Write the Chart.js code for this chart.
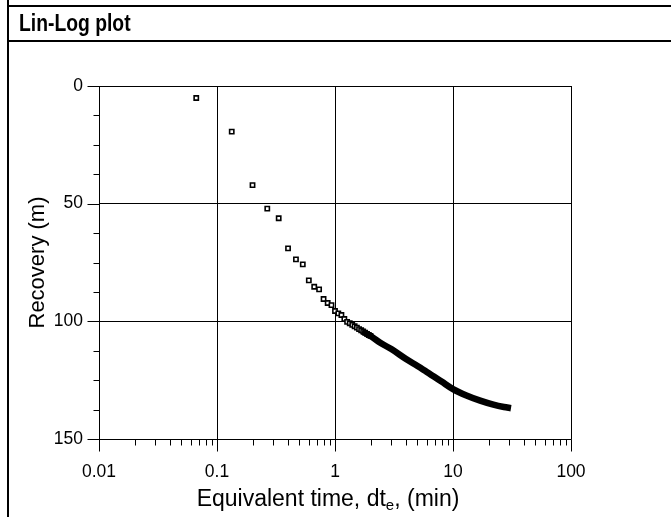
<!DOCTYPE html>
<html>
<head>
<meta charset="utf-8">
<script src="https://cdn.jsdelivr.net/npm/chart.js@4.4.1/dist/chart.umd.min.js"></script>
<style>
  html, body { margin: 0; padding: 0; background: #fff; }
  #wrap { position: relative; width: 671px; height: 517px; overflow: hidden; background: #fff; }
  #c { position: absolute; left: 0; top: 0; }
  .ln { position: absolute; background: #000; }
  #title { position: absolute; left: 19px; top: 12px; font: bold 23px/23px "Liberation Sans", Arial, sans-serif; color: #000; white-space: nowrap; transform: scaleX(0.84); transform-origin: 0 0; }
  #xtitle { position: absolute; left: 28px; width: 600px; top: 487px; text-align: center; font: 23px/23px "Liberation Sans", Arial, sans-serif; color: #000; white-space: nowrap; }
  #xtitle sub { font-size: 15px; line-height: 0; vertical-align: -4px; }
</style>
</head>
<body>
<div id="wrap">
  <canvas id="c" width="671" height="517"></canvas>
  <div class="ln" style="left:7px;top:0;width:2px;height:517px;"></div>
  <div class="ln" style="left:7px;top:5px;width:664px;height:2px;"></div>
  <div class="ln" style="left:7px;top:40px;width:664px;height:2px;"></div>
  <div id="title">Lin-Log plot</div>
  <div id="xtitle">Equivalent time, dt<sub>e</sub>, (min)</div>
</div>
<script>
// Individually visible samples (equivalent time in min, recovery in m)
const sampleTimes = [0.0667, 0.1333, 0.2, 0.2667, 0.3333, 0.4, 0.4667, 0.5333, 0.6, 0.6667,
  0.7333, 0.8, 0.8667, 0.9333, 1.0, 1.0667, 1.1333, 1.2, 1.2667, 1.3333, 1.4, 1.4667, 1.5333,
  1.6, 1.6667, 1.7333, 1.8, 1.8667, 1.9333, 2.0];
const sampleRecovery = [5.1, 19.4, 42.1, 52.1, 56.2, 69.0, 73.7, 75.8, 82.6, 85.3,
  86.4, 90.5, 92.2, 93.1, 95.6, 96.6, 97.3, 99.0, 100.2, 100.8, 101.5, 102.1, 102.7,
  103.3, 103.8, 104.3, 104.8, 105.3, 105.8, 106.2];
// Dense part of the record (markers merge into a solid band)
const denseTimes = [1.7, 2.0, 2.4, 3, 4, 5, 6, 8, 10, 13, 17, 22, 27, 31];
const denseRecovery = [104.3, 106.2, 109.0, 111.8, 116.0, 119.0, 121.5, 125.6, 128.8, 131.5, 133.7, 135.4, 136.4, 136.9];
// Axis ticks
const xMajorTicks = [0.01, 0.1, 1, 10, 100];
const xTickLabels = ['0.01', '0.1', '1', '10', '100'];
const yMajorTicks = [0, 50, 100, 150];
const yMinorStep = 12.5;

const isXMajor = v => xMajorTicks.some(m => Math.abs(v - m) / m < 1e-6);
const isYMajor = v => yMajorTicks.some(m => Math.abs(v - m) < 1e-6);

const FONT = '"Liberation Sans", Arial, sans-serif';

const tickPlugin = {
  id: 'ticksFrame',
  afterDraw(chart) {
    const ctx = chart.ctx, a = chart.chartArea;
    const xs = chart.scales.x, ys = chart.scales.y;
    ctx.save();
    ctx.strokeStyle = '#000';
    ctx.lineWidth = 1;
    ctx.beginPath();
    const L = Math.round(a.left) + 0.5, R = Math.round(a.right) + 0.5;
    const T = Math.round(a.top) + 0.5, B = Math.round(a.bottom) + 0.5;
    ctx.rect(L, T, R - L, B - T);
    xs.ticks.forEach(t => {
      const px = Math.round(xs.getPixelForValue(t.value)) + 0.5;
      const len = isXMajor(t.value) ? 12 : 6;
      ctx.moveTo(px, B); ctx.lineTo(px, B + len);
    });
    ys.ticks.forEach(t => {
      const py = Math.round(ys.getPixelForValue(t.value)) + 0.5;
      const len = isYMajor(t.value) ? 12 : 6;
      ctx.moveTo(L, py); ctx.lineTo(L - len, py);
    });
    ctx.stroke();
    ctx.restore();
  }
};

new Chart(document.getElementById('c'), {
  type: 'scatter',
  data: {
    datasets: [
      {
        type: 'line',
        data: denseTimes.map((t, i) => ({ x: t, y: denseRecovery[i] })),
        borderColor: '#000',
        borderWidth: 6.5,
        pointRadius: 0,
        cubicInterpolationMode: 'monotone',
        borderCapStyle: 'butt',
        fill: false
      },
      {
        data: sampleTimes.map((t, i) => ({ x: t, y: sampleRecovery[i] })),
        pointStyle: 'rect',
        pointRadius: 3,
        borderWidth: 1.6,
        borderColor: '#000',
        backgroundColor: '#fff'
      }
    ]
  },
  options: {
    responsive: false,
    animation: false,
    layout: { padding: { left: 0, right: 100, top: 86, bottom: 0 } },
    plugins: { legend: { display: false }, tooltip: { enabled: false }, title: { display: false } },
    scales: {
      x: {
        type: 'logarithmic',
        min: 0.01, max: 100,
        afterFit: s => { s.height = 78; },
        afterBuildTicks: s => {
          const ticks = [];
          for (let d = -2; d < 2; d++) {
            for (let k = 1; k < 10; k++) ticks.push({ value: k * Math.pow(10, d) });
          }
          ticks.push({ value: 100 });
          s.ticks = ticks;
        },
        border: { display: false },
        grid: {
          drawTicks: false,
          color: c => (c.tick && isXMajor(c.tick.value)) ? '#000' : 'rgba(0,0,0,0)',
          lineWidth: 1
        },
        ticks: {
          autoSkip: false, maxRotation: 0, minRotation: 0,
          padding: 23,
          color: '#000',
          font: { family: FONT, size: 17.5 },
          callback: v => {
            const i = xMajorTicks.findIndex(m => Math.abs(v - m) / m < 1e-6);
            return i >= 0 ? xTickLabels[i] : '';
          }
        }
      },
      y: {
        type: 'linear',
        reverse: true,
        min: 0, max: 150,
        afterFit: s => { s.width = 99; },
        border: { display: false },
        grid: {
          drawTicks: false,
          color: c => (c.tick && isYMajor(c.tick.value)) ? '#000' : 'rgba(0,0,0,0)',
          lineWidth: 1
        },
        ticks: {
          stepSize: yMinorStep,
          autoSkip: false,
          padding: 16,
          color: '#000',
          font: { family: FONT, size: 17.5 },
          callback: v => isYMajor(v) ? String(v) : ''
        },
        title: {
          display: true,
          text: 'Recovery (m)',
          color: '#000',
          font: { family: FONT, size: 22 },
          padding: { top: 25, bottom: 0 }
        }
      }
    }
  },
  plugins: [tickPlugin]
});
</script>
</body>
</html>
